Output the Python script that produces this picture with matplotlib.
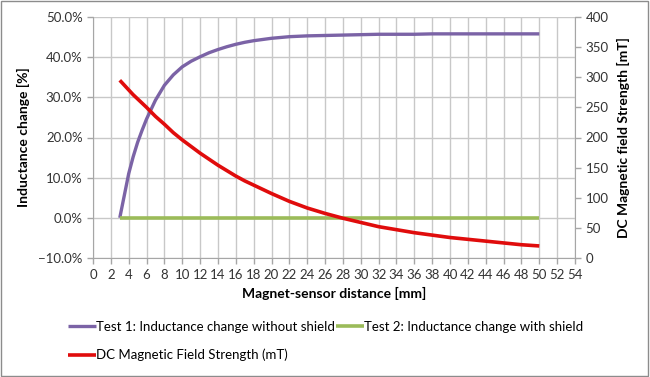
import numpy as np
import matplotlib.pyplot as plt
from matplotlib.patches import Rectangle
from matplotlib.ticker import MultipleLocator, PercentFormatter

plt.rcParams['font.family'] = ['Lato', 'DejaVu Sans']

# distance [mm]
distance = [3, 3.5, 4, 4.5, 5, 5.5, 6, 7, 8, 9, 10, 11, 12, 13, 14, 15, 16, 17,
            18, 19, 20, 22, 24, 26, 28, 30, 32, 34, 36, 38, 40, 42, 44, 46, 48, 50]
# inductance change without shield [%]
test1 = [0.0, 5.5, 11.0, 15.2, 18.8, 21.8, 24.6, 29.3, 33.0, 35.6, 37.6, 39.0,
         40.1, 41.1, 41.9, 42.6, 43.2, 43.7, 44.1, 44.4, 44.7, 45.1, 45.3, 45.4,
         45.5, 45.6, 45.7, 45.7, 45.7, 45.8, 45.8, 45.8, 45.8, 45.8, 45.8, 45.8]
# inductance change with shield [%]
test2 = [0.0] * len(distance)
# DC magnetic field strength [mT]
field = [295, 287, 279, 271, 264, 257, 250, 235, 222, 208, 196, 185, 174, 164,
         154, 145, 136, 128, 121, 114, 107, 94, 83, 74, 66, 59, 52, 47, 42, 38,
         34, 31, 28, 25, 22, 20]

PURPLE = '#7b63a6'
GREEN = '#9bbb59'
RED = '#e00c0c'
GRID = '#c8c8c8'
AXIS = '#a6a6a6'

fig = plt.figure(figsize=(6.5, 3.77), dpi=100)
ax = fig.add_axes([93 / 650, 1 - 258 / 377, (575 - 93) / 650, (258 - 17) / 377])
ax2 = ax.twinx()

l1, = ax.plot(distance, test1, color=PURPLE, lw=2.4, solid_capstyle='butt',
              solid_joinstyle='round')
l2, = ax.plot(distance, test2, color=GREEN, lw=2.6, solid_capstyle='butt')
l3, = ax2.plot(distance, field, color=RED, lw=2.6, solid_capstyle='butt',
               solid_joinstyle='round')

ax.set_xlim(0, 54)
ax.set_ylim(-10, 50)
ax2.set_ylim(0, 400)
ax.xaxis.set_major_locator(MultipleLocator(2))
ax.yaxis.set_major_locator(MultipleLocator(10))
ax2.yaxis.set_major_locator(MultipleLocator(50))
ax.yaxis.set_major_formatter(PercentFormatter(decimals=1))

ax.grid(True, color=GRID, lw=1)
ax.set_axisbelow(True)
for a in (ax, ax2):
    for s in a.spines.values():
        s.set_visible(False)
    a.tick_params(colors=AXIS, labelcolor='#333333', labelsize=9.5, length=4, width=1)
ax.spines['left'].set_visible(True)
ax.spines['left'].set_color(AXIS)
ax.spines['bottom'].set_visible(True)
ax.spines['bottom'].set_color(AXIS)
ax2.spines['right'].set_visible(True)
ax2.spines['right'].set_color(AXIS)
ax.tick_params(axis='x', pad=4)

ax.set_xlabel('Magnet-sensor distance [mm]', fontsize=10, fontweight='bold', labelpad=4)
ax.set_ylabel('Inductance change [%]', fontsize=10, fontweight='bold', labelpad=6)
ax2.set_ylabel('DC Magnetic field Strength [mT]', fontsize=10, fontweight='bold', labelpad=6)

fig.legend([l1, l3, l2],
           ['Test 1: Inductance change without shield',
            'DC Magnetic Field Strength (mT)',
            'Test 2: Inductance change with shield'],
           ncol=2, loc='upper left', bbox_to_anchor=(68 / 650, 1 - 321 / 377),
           frameon=False, fontsize=9.5, handlelength=2.1, handletextpad=0.05,
           columnspacing=0.05, labelspacing=1.2, borderaxespad=0, borderpad=0)

fig.patches.append(Rectangle((0.002, 0.003), 0.995, 0.994, transform=fig.transFigure,
                             fill=False, edgecolor='#8c8c8c', lw=1))

fig.savefig('out.png', dpi=100)
